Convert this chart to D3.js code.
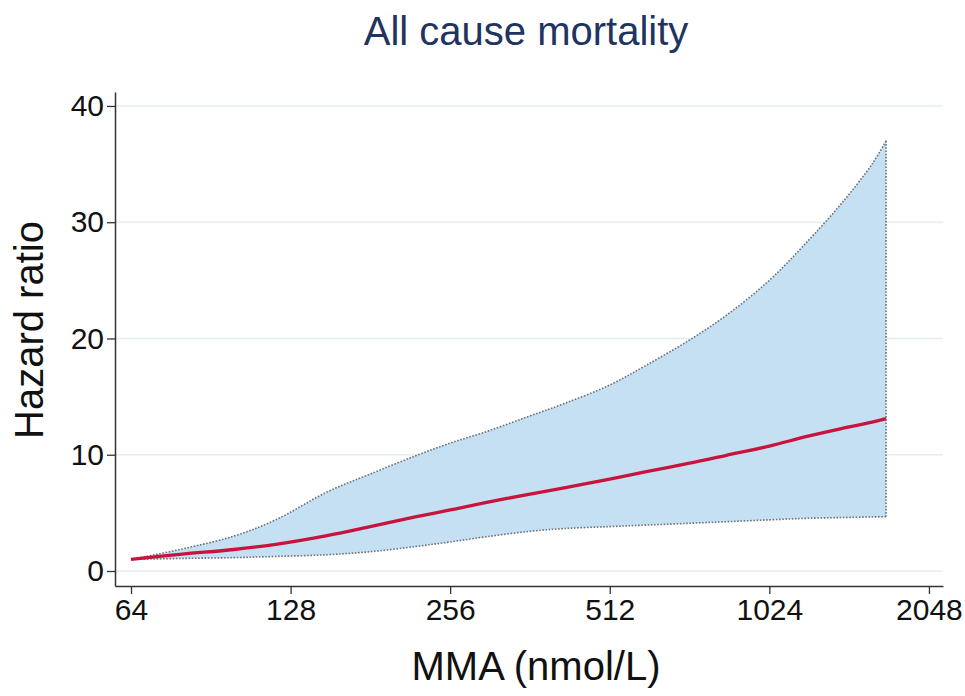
<!DOCTYPE html>
<html>
<head>
<meta charset="utf-8">
<script src="https://cdn.jsdelivr.net/npm/d3@7"></script>
<style>
  body { margin: 0; background: #fff; }
  svg { display: block; font-family: "Liberation Sans", Arial, sans-serif; }
</style>
</head>
<body>
<svg id="chart" width="965" height="696"></svg>
<script>
// MMA values (nmol/L) and hazard ratio estimates
const mma   = [64, 80, 100, 120, 150, 180, 220, 256, 300, 360, 420, 512, 600, 720, 850, 1024, 1200, 1400, 1600, 1700];
const hr    = [1.0, 1.45, 1.85, 2.3, 3.05, 3.8, 4.65, 5.25, 5.9, 6.6, 7.15, 7.9, 8.55, 9.25, 9.95, 10.75, 11.55, 12.25, 12.8, 13.1];
const upper = [1.0, 1.9, 3.0, 4.4, 6.8, 8.3, 9.9, 11.0, 12.0, 13.3, 14.4, 16.0, 17.7, 19.8, 22.0, 25.0, 28.2, 31.6, 35.0, 37.0];
const lower = [1.0, 1.08, 1.15, 1.25, 1.4, 1.65, 2.1, 2.5, 2.95, 3.4, 3.65, 3.82, 3.95, 4.1, 4.24, 4.4, 4.53, 4.6, 4.65, 4.67];
const xTicks = [64, 128, 256, 512, 1024, 2048];
const yTicks = [0, 10, 20, 30, 40];

const data = mma.map((m, i) => ({ m: m, hr: hr[i], hi: upper[i], lo: lower[i] }));

const svg = d3.select("#chart");

const x = d3.scaleLog().base(2)
  .domain([59.7, 2177])
  .range([115, 943]);

const y = d3.scaleLinear()
  .domain([-1.29, 41.2])
  .range([586, 92]);

const curve = d3.curveCatmullRom.alpha(0.5);

// gridlines
svg.append("g")
  .selectAll("line")
  .data(yTicks)
  .enter()
  .append("line")
  .attr("x1", 116)
  .attr("x2", 943)
  .attr("y1", d => y(d))
  .attr("y2", d => y(d))
  .attr("stroke", "#e6eef0")
  .attr("stroke-width", 1.5);

// confidence band
const area = d3.area()
  .x(d => x(d.m))
  .y0(d => y(d.lo))
  .y1(d => y(d.hi))
  .curve(curve);

svg.append("path")
  .datum(data)
  .attr("d", area)
  .attr("fill", "#c5e0f3");

// band outline: upper curve, end cap, lower curve
const upperLine = d3.line().x(d => x(d.m)).y(d => y(d.hi)).curve(curve);
const lowerLine = d3.line().x(d => x(d.m)).y(d => y(d.lo)).curve(curve);
const last = data[data.length - 1];

const dotted = g => g
  .attr("fill", "none")
  .attr("stroke", "#6e7378")
  .attr("stroke-width", 1.6)
  .attr("stroke-dasharray", "1.6,1.6");

svg.append("path").datum(data).attr("d", upperLine).call(dotted);
svg.append("path").datum(data).attr("d", lowerLine).call(dotted);
svg.append("line")
  .attr("x1", x(last.m)).attr("x2", x(last.m))
  .attr("y1", y(last.hi)).attr("y2", y(last.lo))
  .call(dotted);

// hazard ratio curve
svg.append("path")
  .datum(data)
  .attr("d", d3.line().x(d => x(d.m)).y(d => y(d.hr)).curve(curve))
  .attr("fill", "none")
  .attr("stroke", "#c8143c")
  .attr("stroke-width", 3.3);

// axes
const xAxis = svg.append("g")
  .attr("transform", "translate(0,586)")
  .call(d3.axisBottom(x).tickValues(xTicks).tickFormat(d3.format("d")).tickSize(8).tickPadding(5).tickSizeOuter(0));

const yAxis = svg.append("g")
  .attr("transform", "translate(115,0)")
  .call(d3.axisLeft(y).tickValues(yTicks).tickSize(8).tickPadding(3).tickSizeOuter(0));

[xAxis, yAxis].forEach(a => {
  a.select(".domain").attr("stroke", "#333").attr("stroke-width", 1.5);
  a.selectAll(".tick line").attr("stroke", "#333").attr("stroke-width", 1.3);
  a.selectAll(".tick text")
    .attr("fill", "#111")
    .style("font-size", "30px")
    .style("font-family", "Liberation Sans, Arial, sans-serif");
});

// titles
svg.append("text")
  .attr("x", 526)
  .attr("y", 45)
  .attr("text-anchor", "middle")
  .attr("fill", "#1f3461")
  .style("font-size", "40px")
  .text("All cause mortality");

svg.append("text")
  .attr("x", 536)
  .attr("y", 680)
  .attr("text-anchor", "middle")
  .attr("fill", "#111")
  .style("font-size", "40px")
  .text("MMA (nmol/L)");

svg.append("text")
  .attr("transform", "translate(43,330) rotate(-90)")
  .attr("text-anchor", "middle")
  .attr("fill", "#111")
  .style("font-size", "40px")
  .text("Hazard ratio");
</script>
</body>
</html>
